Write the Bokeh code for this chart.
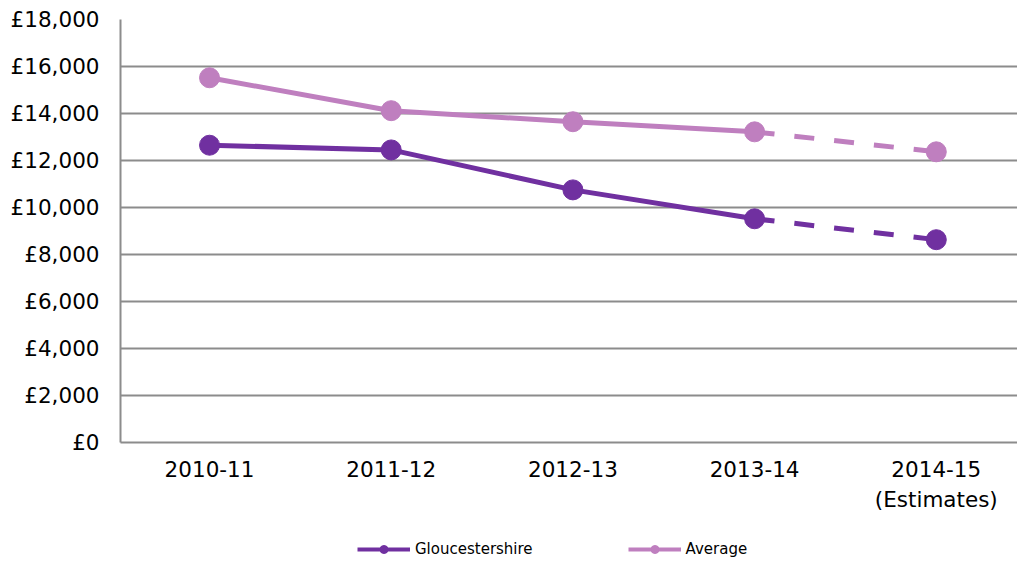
from bokeh.plotting import figure
from bokeh.models import Range1d, FixedTicker, ColumnDataSource, Legend, LegendItem
from bokeh.layouts import column
from bokeh.embed import file_html
from bokeh.resources import INLINE

# ---- data ----
periods = ["2010-11", "2011-12", "2012-13", "2013-14", "2014-15\n(Estimates)"]
gloucestershire = [12650, 12450, 10750, 9520, 8630]
average = [15520, 14120, 13650, 13220, 12370]
y_ticks = [0, 2000, 4000, 6000, 8000, 10000, 12000, 14000, 16000, 18000]
y_tick_labels = ["£0", "£2,000", "£4,000", "£6,000", "£8,000", "£10,000",
                 "£12,000", "£14,000", "£16,000", "£18,000"]
series_names = ["Gloucestershire", "Average"]
series_colors = ["#7030A0", "#BF7FBF"]
n_actual = 4  # first 4 periods are outturn, last is an estimate

FONT = "DejaVu Sans"

idx = list(range(len(periods)))

p = figure(width=1017, height=520, output_backend="svg", toolbar_location=None,
           x_range=Range1d(-0.49, 4.447), y_range=Range1d(0, 18000),
           min_border_left=120, min_border_right=0, min_border_top=19,
           min_border_bottom=78)
p.outline_line_color = None
p.background_fill_color = "white"
p.border_fill_color = "white"

# axes
p.xaxis.ticker = FixedTicker(ticks=idx)
p.xaxis.major_label_overrides = {i: lab for i, lab in zip(idx, periods)}
p.yaxis.ticker = FixedTicker(ticks=y_ticks)
p.yaxis.major_label_overrides = {t: lab for t, lab in zip(y_ticks, y_tick_labels)}
for ax in (p.xaxis, p.yaxis):
    ax.major_tick_line_color = None
    ax.minor_tick_line_color = None
    ax.axis_line_color = "#8c8c8c"
    ax.axis_line_width = 2
    ax.major_label_text_font = FONT
    ax.major_label_text_font_size = "21.5px"
    ax.major_label_text_color = "black"
p.xaxis.major_label_standoff = 8
p.yaxis.major_label_standoff = 15

p.xgrid.grid_line_color = None
p.ygrid.ticker = FixedTicker(ticks=y_ticks)
p.ygrid.grid_line_color = "#8c8c8c"
p.ygrid.grid_line_width = 2

# legend strip (separate small figure below the chart; its ranges keep the
# swatch renderers' data out of view so only the legend shows)
lg = figure(width=1017, height=41, output_backend="svg", toolbar_location=None,
            x_range=Range1d(0, 1), y_range=Range1d(0, 1),
            min_border_left=0, min_border_right=0, min_border_top=0,
            min_border_bottom=0)
lg.axis.visible = False
lg.grid.visible = False
lg.outline_line_color = None

items = []
for name, vals, col in zip(series_names, [gloucestershire, average], series_colors):
    solid = ColumnDataSource(dict(x=idx[:n_actual], y=vals[:n_actual]))
    dashed = ColumnDataSource(dict(x=idx[n_actual - 1:], y=vals[n_actual - 1:]))
    allpts = ColumnDataSource(dict(x=idx, y=vals))
    p.line("x", "y", source=solid, line_color=col, line_width=5)
    p.line("x", "y", source=dashed, line_color=col, line_width=5,
           line_dash="20 20")
    p.scatter("x", "y", source=allpts, size=20, marker="circle",
              fill_color=col, line_color=col)
    # legend swatch (line with small marker)
    sw = ColumnDataSource(dict(x=idx, y=vals))
    lr = lg.line("x", "y", source=sw, line_color=col, line_width=4)
    sr = lg.scatter("x", "y", source=sw, size=10, marker="circle",
                    fill_color=col, line_color=col)
    items.append(LegendItem(label=name, renderers=[lr, sr]))

legend = Legend(items=items, orientation="horizontal", location=(237, 2),
                glyph_width=53, glyph_height=20, label_height=20,
                label_standoff=5, spacing=95, padding=0, margin=0,
                border_line_color=None, background_fill_alpha=0,
                label_text_font=FONT, label_text_font_size="15px",
                label_text_color="black")
lg.add_layout(legend, "center")

open("out.html", "w").write(file_html(column(p, lg, spacing=0), INLINE))
